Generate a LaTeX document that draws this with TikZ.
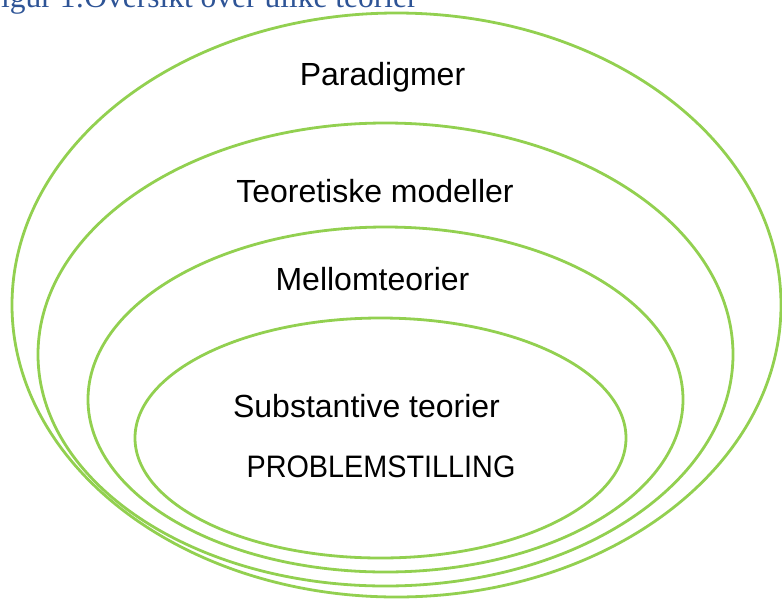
\documentclass[tikz,border=0pt]{standalone}
\usepackage{fontspec}
\setmainfont{Liberation Sans}
\newfontfamily\capfont{Liberation Serif}
\definecolor{ringgreen}{RGB}{146,208,80}
\definecolor{capblue}{RGB}{46,84,150}
\begin{document}
\begin{tikzpicture}[x=1pt,y=-1pt,
  ring/.style={draw=ringgreen,line width=2.8pt},
  lab/.style={anchor=base,inner sep=0pt,font=\fontsize{32}{38}\selectfont}]
\useasboundingbox (0,0) rectangle (782,598);
\clip (0,0) rectangle (782,598);
% caption (clipped at top)
\node[anchor=base west,inner sep=0pt,text=capblue,font=\capfont\fontsize{31.5}{36}\selectfont] (cap) at (-16.5,7) {Figur 1:Oversikt over ulike teorier};
% rings
\draw[ring] (396.5,305) ellipse [x radius=384.5, y radius=292];
\draw[ring] (385.5,354.5) ellipse [x radius=347.5, y radius=231.5];
\draw[ring] (385.5,399.5) ellipse [x radius=297.5, y radius=172.5];
\draw[ring] (380.5,438) ellipse [x radius=245.5, y radius=120];
% labels
\node[lab] (p) at (382.5,85) {Paradigmer};
\node[lab] (t) at (375,202) {Teoretiske modeller};
\node[lab] (m) at (372.5,290) {Mellomteorier};
\node[lab] (s) at (366.5,417) {Substantive teorier};
\node[lab] (ps) at (381,477) {\scalebox{0.9}[0.97]{PROBLEMSTILLING}};
\end{tikzpicture}
\end{document}
